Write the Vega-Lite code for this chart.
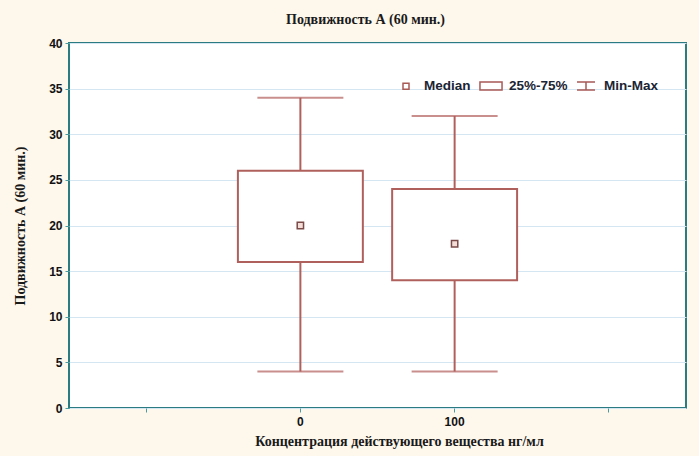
{
  "$schema": "https://vega.github.io/schema/vega-lite/v6.json",
  "autosize": {"type": "none"},
  "width": 617,
  "height": 365,
  "padding": {"left": 69, "top": 43, "right": 13, "bottom": 48},
  "background": "#fdf7ec",
  "title": {
    "text": "Подвижность А (60 мин.)",
    "font": "Liberation Serif",
    "fontSize": 14,
    "fontWeight": "bold",
    "color": "#1a1a1a",
    "anchor": "middle",
    "offset": 10,
    "dx": -12
  },
  "data": {
    "values": [
      {"conc": "0", "min": 4, "q1": 16, "median": 20, "q3": 26, "max": 34},
      {"conc": "100", "min": 4, "q1": 14, "median": 18, "q3": 24, "max": 32}
    ]
  },
  "encoding": {
    "x": {
      "field": "conc",
      "type": "ordinal",
      "scale": {"type": "band", "domain": ["lo", "0", "100", "hi"], "paddingInner": 0, "paddingOuter": 0},
      "axis": {
        "title": "Концентрация действующего вещества нг/мл",
        "titleFont": "Liberation Serif",
        "titleFontSize": 14,
        "titleFontWeight": "bold",
        "titleColor": "#1a1a1a",
        "titlePadding": 7,
        "titleX": 330,
        "labelExpr": "datum.value == 'lo' || datum.value == 'hi' ? '' : datum.value",
        "labelAngle": 0,
        "labelFont": "Liberation Sans",
        "labelFontWeight": "bold",
        "labelFontSize": 12,
        "labelColor": "#111111",
        "labelPadding": 4,
        "bandPosition": 0.5,
        "domain": false,
        "grid": false,
        "tickSize": 4,
        "tickColor": "#4a9aa0"
      }
    }
  },
  "layer": [
    {
      "mark": {"type": "rule", "stroke": "#b0605c", "strokeWidth": 2},
      "encoding": {
        "y": {
          "field": "min",
          "type": "quantitative",
          "scale": {"domain": [0, 40], "nice": false},
          "axis": {
            "title": "Подвижность А (60 мин.)",
            "titleFont": "Liberation Serif",
            "titleFontSize": 14,
            "titleFontWeight": "bold",
            "titleColor": "#1a1a1a",
            "titlePadding": 21,
            "values": [0, 5, 10, 15, 20, 25, 30, 35, 40],
            "labelFont": "Liberation Sans",
            "labelFontWeight": "bold",
            "labelFontSize": 12,
            "labelColor": "#111111",
            "labelPadding": 3,
            "domain": false,
            "grid": true,
            "gridColor": "#d3e6f2",
            "gridWidth": 1,
            "tickSize": 4,
            "tickColor": "#4a9aa0"
          }
        },
        "y2": {"field": "max"}
      }
    },
    {
      "mark": {"type": "tick", "color": "#b0605c", "thickness": 2, "size": 86},
      "encoding": {
        "y": {"field": "min", "type": "quantitative", "title": "Подвижность А (60 мин.)"}
      }
    },
    {
      "mark": {"type": "tick", "color": "#b0605c", "thickness": 2, "size": 86},
      "encoding": {
        "y": {"field": "max", "type": "quantitative", "title": "Подвижность А (60 мин.)"}
      }
    },
    {
      "mark": {"type": "bar", "fill": "#ffffff", "stroke": "#b0605c", "strokeWidth": 2, "width": {"band": 0.81}},
      "encoding": {
        "y": {"field": "q1", "type": "quantitative", "title": "Подвижность А (60 мин.)"},
        "y2": {"field": "q3"}
      }
    },
    {
      "mark": {"type": "point", "shape": "square", "size": 40, "filled": true, "fill": "#f3ddd6", "stroke": "#7a4a48", "strokeWidth": 1.5, "opacity": 1},
      "encoding": {
        "y": {"field": "median", "type": "quantitative", "title": "Подвижность А (60 мин.)"}
      }
    },
    {
      "data": {"values": []},
      "mark": {"type": "point", "filled": false, "color": "#a85a55", "strokeWidth": 1.5, "size": 576, "opacity": 1},
      "encoding": {
        "x": {"field": "conc", "type": "ordinal"},
        "shape": {
          "field": "item",
          "type": "nominal",
          "scale": {
            "domain": ["Median", "25%-75%", "Min-Max"],
            "range": [
              "M-0.25,-0.25L0.25,-0.25L0.25,0.25L-0.25,0.25Z",
              "M-0.92,-0.33L0.92,-0.33L0.92,0.33L-0.92,0.33Z",
              "M-0.75,-0.33L0.75,-0.33M0,-0.33L0,0.33M-0.75,0.33L0.75,0.33"
            ]
          },
          "legend": {
            "title": null,
            "orient": "none",
            "legendX": 324,
            "legendY": 30,
            "direction": "horizontal",
            "padding": 0,
            "labelFont": "Liberation Sans",
            "labelFontWeight": "bold",
            "labelFontSize": 13.5,
            "labelColor": "#1b2433",
            "labelOffset": 5,
            "columnPadding": 5,
            "symbolSize": 576,
            "symbolStrokeColor": "#a85a55",
            "symbolFillColor": "#ffffff",
            "symbolStrokeWidth": 1.5,
            "symbolOpacity": 1
          }
        }
      }
    }
  ],
  "config": {
    "view": {"fill": "#ffffff", "stroke": "#2b7b82", "strokeWidth": 2}
  }
}
